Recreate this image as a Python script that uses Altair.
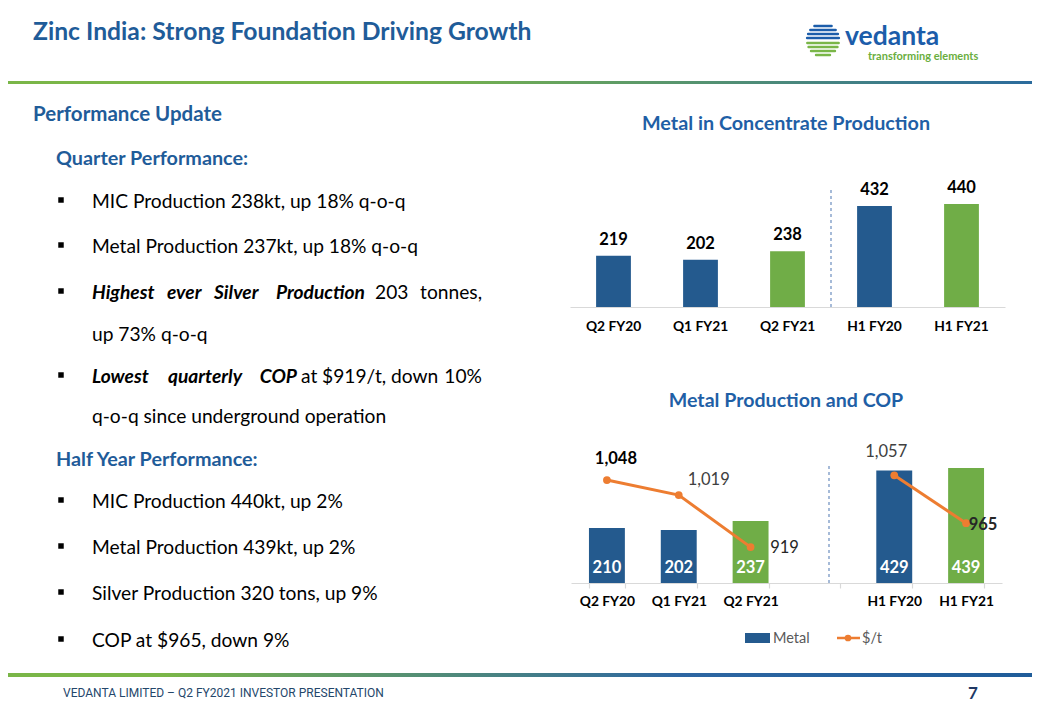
import altair as alt
import pandas as pd

# ---------------- data ----------------
categories = ["Q2 FY20", "Q1 FY21", "Q2 FY21", "H1 FY20", "H1 FY21"]
period_type = ["Quarter", "Quarter", "Quarter", "Half year", "Half year"]
highlight = ["prior", "prior", "current", "prior", "current"]
mic_production = [219, 202, 238, 432, 440]
metal_production = [210, 202, 237, 429, 439]
cop_per_t = [1048, 1019, 919, 1057, 965]
cop_labels = ["1,048", "1,019", "919", "1,057", "965"]
axis2_categories = ["Q2 FY20", "Q1 FY21", "Q2 FY21", " ", "H1 FY20", "H1 FY21"]

df = pd.DataFrame({
    "category": categories,
    "period": period_type,
    "highlight": highlight,
    "mic": mic_production,
    "metal": metal_production,
    "cop": cop_per_t,
    "cop_label": cop_labels,
})

# ---------------- style ----------------
FONT = "Lato"
BLUE_T = "#1F5C99"
BLUE_C = "#1F5FA6"
BAR_BLUE = "#245A8E"
BAR_GREEN = "#70AD47"
ORANGE = "#ED7D31"
BODY = 19.2
W, H = 1024, 704


def px(v):
    return v - 8


def label(text, x, y, size=BODY, weight="normal", style="normal", color="#000000",
          align="left", baseline="alphabetic", font=FONT):
    return alt.Chart(alt.Data(values=[{}])).mark_text(
        text=text, align=align, baseline=baseline, font=font, fontSize=size,
        fontWeight=weight, fontStyle=style, color=color
    ).encode(x=alt.value(px(x)), y=alt.value(px(y)))


def hrule(x1, x2, y, color, width=2.4, dash=None, cap="round"):
    kw = dict(color=color, strokeWidth=width, strokeCap=cap)
    if dash:
        kw["strokeDash"] = dash
    return alt.Chart(alt.Data(values=[{}])).mark_rule(**kw).encode(
        x=alt.value(px(x1)), x2=alt.value(px(x2)), y=alt.value(px(y)))


def vrule(x, y1, y2, color, width=1.2, dash=None):
    kw = dict(color=color, strokeWidth=width)
    if dash:
        kw["strokeDash"] = dash
    return alt.Chart(alt.Data(values=[{}])).mark_rule(**kw).encode(
        x=alt.value(px(x)), y=alt.value(px(y1)), y2=alt.value(px(y2)))


def grad_bar(y1, y2, stops):
    g = alt.LinearGradient(
        gradient="linear", x1=0, x2=1, y1=0, y2=0,
        stops=[alt.GradientStop(color=c, offset=o) for o, c in stops])
    return alt.Chart(alt.Data(values=[{}])).mark_rect(color=g).encode(
        x=alt.value(0), x2=alt.value(W + 8), y=alt.value(px(y1)), y2=alt.value(px(y2)))


layers = []

# ---------------- header ----------------
layers.append(label("Zinc India: Strong Foundation Driving Growth", 33, 39.5, size=24.7,
                    weight="bold", color=BLUE_T))
layers.append(grad_bar(81, 84, [(0, "#7AB648"), (0.38, "#7AB648"), (1, "#2A6A9E")]))

# logo: striped globe
logo_rows = [(-14, 9.6, "#1C5DAA"), (-10, 13.7, "#1C5DAA"), (-6, 15.9, "#1C5DAA"),
             (-2, 16.9, "#1C5DAA"), (3, 16.7, "#7AB648"), (7, 15.5, "#7AB648"),
             (11, 13.0, "#7AB648"), (15, 8.0, "#7AB648")]
for dy, hw, c in logo_rows:
    layers.append(hrule(823 - hw + 1, 823 + hw - 1, 40 + dy, c, width=2.4))
layers.append(label("vedanta", 845, 45, size=26.5, weight="bold", color="#1C5DAA"))
layers.append(label("transforming elements", 868, 59.5, size=11, weight="bold", color="#6AAE3E"))

# ---------------- left text ----------------
layers.append(label("Performance Update", 33, 121, size=20.5, weight="bold", color=BLUE_T))
layers.append(label("Quarter Performance:", 56, 165, size=19.8, weight="bold", color=BLUE_T))
layers.append(label("Half Year Performance:", 56, 466, size=19.8, weight="bold", color=BLUE_T))

bullet_baselines = [208, 253, 299, 383, 508, 554, 600, 647]
for b in bullet_baselines:
    layers.append(alt.Chart(alt.Data(values=[{}])).mark_square(
        size=30, color="#000000", opacity=1).encode(
        x=alt.value(px(61)), y=alt.value(px(b - 8))))

layers.append(label("MIC Production 238kt, up 18% q-o-q", 92, 208))
layers.append(label("Metal Production 237kt, up 18% q-o-q", 92, 253))
for word, x, al in [("Highest", 92, "left"), ("ever", 167, "left"), ("Silver", 214, "left"),
                    ("Production", 365, "right")]:
    layers.append(label(word, x, 299, weight="bold", style="italic", align=al))
layers.append(label("203", 375, 299))
layers.append(label("tonnes,", 482, 299, align="right"))
layers.append(label("up 73% q-o-q", 92, 341))
for word, x, al in [("Lowest", 92, "left"), ("quarterly", 205, "center"), ("COP", 297, "right")]:
    layers.append(label(word, x, 383, weight="bold", style="italic", align=al))
for word, x in [("at", 301), ("$919/t,", 322), ("down", 391)]:
    layers.append(label(word, x, 383))
layers.append(label("10%", 482, 383, align="right"))
layers.append(label("q-o-q  since underground operation", 92, 423))
layers.append(label("MIC Production 440kt, up 2%", 92, 508))
layers.append(label("Metal Production 439kt, up 2%", 92, 554))
layers.append(label("Silver Production 320 tons, up 9%", 92, 600))
layers.append(label("COP at $965, down 9%", 92, 647))

# ---------------- chart 1: Metal in Concentrate Production ----------------
layers.append(label("Metal in Concentrate Production", 786, 130, size=19.8, weight="bold",
                    color=BLUE_C, align="center"))

x1 = alt.Scale(domain=categories, range=[px(570), px(1005)], paddingInner=0.6, paddingOuter=0.3)
y1 = alt.Scale(domain=[0, 500], range=[px(307), px(307 - 117)], nice=False, zero=True)
color_scale = alt.Scale(domain=["prior", "current"], range=[BAR_BLUE, BAR_GREEN])

axis1 = alt.Axis(orient="bottom", offset=px(307) - H, title=None, grid=False, ticks=False,
                 tickSize=0, domainColor="#D9D9D9", domainWidth=1.2, labelAngle=0,
                 labelFont=FONT, labelFontSize=13.8, labelFontWeight="bold",
                 labelColor="#000000", labelPadding=12)

base1 = alt.Chart(df)
layers.append(base1.mark_bar().encode(
    x=alt.X("category:N", scale=x1, axis=axis1, sort=categories),
    y=alt.Y("mic:Q", scale=y1, axis=None),
    color=alt.Color("highlight:N", scale=color_scale, legend=None),
))
layers.append(base1.mark_text(font=FONT, fontSize=16.5, fontWeight="bold", color="#000000",
                              baseline="alphabetic", dy=-11).encode(
    x=alt.X("category:N", scale=x1, axis=None, sort=categories),
    y=alt.Y("mic:Q", scale=y1, axis=None),
    text=alt.Text("mic:Q"),
))
layers.append(vrule(831, 190, 307, "#6C8EBF", width=1.2, dash=[3, 3]))

# ---------------- chart 2: Metal Production and COP ----------------
layers.append(label("Metal Production and COP", 786, 407, size=19.6, weight="bold",
                    color=BLUE_C, align="center"))

x2 = alt.Scale(domain=axis2_categories, range=[px(571), px(1002)], paddingInner=0.5, paddingOuter=0.25)
y2 = alt.Scale(domain=[0, 500], range=[px(583), px(583 - 131)], nice=False, zero=True)
y3 = alt.Scale(domain=[850, 1100], range=[px(583), px(453)], nice=False, zero=False)

axis2 = alt.Axis(orient="bottom", offset=px(583) - H, title=None, grid=False, ticks=True,
                 tickBand="extent", tickSize=5, tickColor="#D9D9D9", tickWidth=1.2,
                 domainColor="#D9D9D9", domainWidth=1.2, labelAngle=0,
                 labelFont=FONT, labelFontSize=13.8, labelFontWeight="bold",
                 labelColor="#000000", labelPadding=6)

base2 = alt.Chart(df)
layers.append(base2.mark_bar().encode(
    x=alt.X("category:N", scale=x2, axis=axis2),
    y=alt.Y("metal:Q", scale=y2, axis=None),
    color=alt.Color("highlight:N", scale=color_scale, legend=None),
))
layers.append(base2.mark_text(font=FONT, fontSize=16.5, fontWeight="bold", color="#FFFFFF",
                              baseline="alphabetic").encode(
    x=alt.X("category:N", scale=x2, axis=None),
    y=alt.value(px(573)),
    text=alt.Text("metal:Q"),
))
layers.append(vrule(829, 466, 583, "#6C8EBF", width=1.2, dash=[3, 3]))

layers.append(base2.mark_line(color=ORANGE, strokeWidth=3).encode(
    x=alt.X("category:N", scale=x2, axis=None),
    y=alt.Y("cop:Q", scale=y3, axis=None),
    detail="period:N",
))
layers.append(base2.mark_circle(color=ORANGE, size=60, opacity=1).encode(
    x=alt.X("category:N", scale=x2, axis=None),
    y=alt.Y("cop:Q", scale=y3, axis=None),
))

cop_label_style = {
    "Q2 FY20": dict(dx=9, dy=-16, fontWeight="bold", color="#000000"),
    "Q1 FY21": dict(dx=30, dy=-10, fontWeight="normal", color="#404040"),
    "Q2 FY21": dict(dx=34, dy=6, fontWeight="normal", color="#262626"),
    "H1 FY20": dict(dx=-8, dy=-18, fontWeight="normal", color="#404040"),
    "H1 FY21": dict(dx=17, dy=7, fontWeight="bold", color="#262626"),
}
for cat, st in cop_label_style.items():
    layers.append(base2.transform_filter(alt.datum.category == cat).mark_text(
        font=FONT, fontSize=16.5, baseline="alphabetic", align="center", **st).encode(
        x=alt.X("category:N", scale=x2, axis=None),
        y=alt.Y("cop:Q", scale=y3, axis=None),
        text="cop_label:N",
    ))

# legend
layers.append(alt.Chart(alt.Data(values=[{}])).mark_rect(color=BAR_BLUE).encode(
    x=alt.value(px(745)), x2=alt.value(px(770)), y=alt.value(px(633)), y2=alt.value(px(643))))
layers.append(label("Metal", 773, 643, size=14.5, color="#595959"))
layers.append(hrule(837, 860, 638, ORANGE, width=2.5, cap="butt"))
layers.append(alt.Chart(alt.Data(values=[{}])).mark_circle(color=ORANGE, size=45, opacity=1).encode(
    x=alt.value(px(848)), y=alt.value(px(638))))
layers.append(label("$/t", 862, 643, size=14.5, color="#595959"))

# ---------------- footer ----------------
layers.append(grad_bar(673, 677, [(0, "#7AB648"), (0.15, "#7AB648"), (0.65, "#2D66A2"), (1, "#1F5C99")]))
layers.append(label("VEDANTA  LIMITED \u2013 Q2 FY2021  INVESTOR PRESENTATION", 63, 697,
                    size=12, color="#24476B", font="Roboto"))
layers.append(label("7", 973, 699, size=17, weight="bold", color="#1F3864", align="center"))

chart = alt.layer(*layers).resolve_scale(
    x="independent", y="independent", color="independent"
).properties(
    width=W, height=H, padding=0, autosize=alt.AutoSizeParams(type="none"),
    background="#FFFFFF",
).configure_view(stroke=None)

chart.save("out.html", embed_options={"renderer": "svg", "actions": False})
